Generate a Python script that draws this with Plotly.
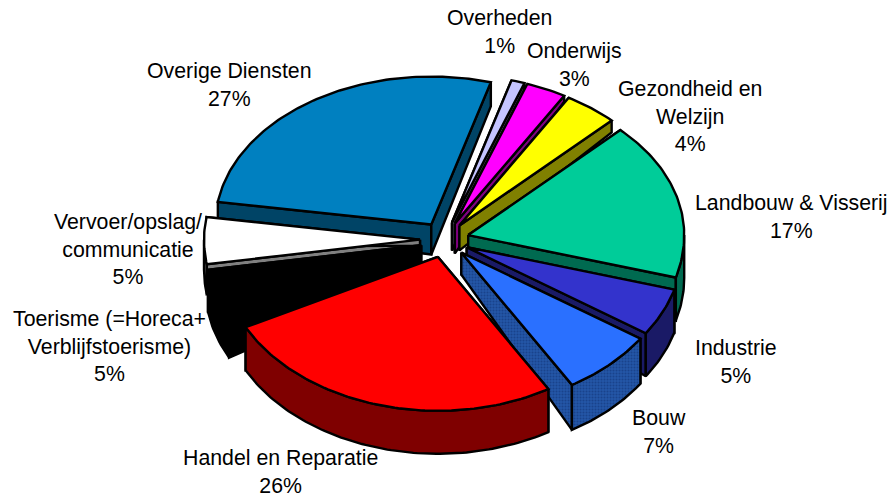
import math
import plotly.graph_objects as go

# Data, in drawing order (clockwise from the top)
categories = ["Overheden", "Onderwijs", "Gezondheid en<br>Welzijn", "Landbouw &amp; Visserij",
              "Industrie", "Bouw", "Handel en Reparatie",
              "Toerisme (=Horeca+<br>Verblijfstoerisme)",
              "Vervoer/opslag/<br>communicatie", "Overige Diensten"]
values = [1, 3, 4, 17, 5, 7, 26, 5, 5, 27]
top_colors = ["#C4C4FF", "#FF00FF", "#FFFF00", "#00CC99", "#3333CC",
              "#2A70FF", "#FF0000", "#000000", "#FFFFFF", "#0080C0"]
side_colors = ["#62627F", "#800080", "#808000", "#006A50", "#1A1A66",
               "#2456A8", "#7F0000", "#000000", "#808080", "#004466"]

# Layout of the drawing
CX, CY = 444.5, 239.6
EX_X, EX_Y = 24.5, 17.9
RX, RY_BACK, RY_FRONT = 216, 148, 154
ROT = 16.0
APEX_DEPTH = [28, 30, 25, 25, 22, 22, 30, 30, 6, 30]
RIM_DEPTH = [10, 6, 12, 43, 43, 45, 43, 42, 30, 24]
LABEL_POS = [(499, 32), (574, 65), (690, 116.5), (791, 217), (736, 362),
             (659, 432), (280, 472), (109, 346.5), (128, 249.5), (229, 84.5)]

fig = go.Figure()


def poly(pts, fill, pattern=None):
    xs = [p[0] for p in pts] + [pts[0][0]]
    ys = [p[1] for p in pts] + [pts[0][1]]
    kw = {}
    if pattern:
        kw["fillpattern"] = pattern
    fig.add_trace(go.Scatter(x=xs, y=ys, mode="lines", fill="toself", fillcolor=fill,
                             line=dict(color="#000000", width=2.4, shape="linear"),
                             hoverinfo="skip", showlegend=False, **kw))


total = sum(values)
spans = []
a = ROT
for v in values:
    b = a + 360.0 * v / total
    spans.append((a, b))
    a = b


def rim(ax, ay, t):
    r = math.radians(t)
    c = math.cos(r)
    return (ax + RX * math.sin(r), ay - (RY_BACK if c > 0 else RY_FRONT) * c)


order = sorted(range(len(values)),
               key=lambda i: -math.cos(math.radians((spans[i][0] + spans[i][1]) / 2)))

for i in order:
    s, e = spans[i]
    mid = math.radians((s + e) / 2)
    ax = CX + EX_X * math.sin(mid)
    ay = CY - EX_Y * math.cos(mid)
    n = max(int(e - s), 2)
    arc = [rim(ax, ay, s + (e - s) * k / n) for k in range(n + 1)]
    ad, rd = APEX_DEPTH[i], RIM_DEPTH[i]
    pattern = None
    if categories[i] == "Bouw":
        pattern = dict(shape=".", bgcolor="#2456A8", fgcolor="#0E3070", size=3, solidity=0.4)
    # radial walls
    for pt in (arc[0], arc[-1]):
        poly([(ax, ay), pt, (pt[0], pt[1] + rd), (ax, ay + ad)], side_colors[i], pattern)
    # outer wall, only on the front half
    f0, f1 = max(s, 90), min(e, 270)
    if f1 > f0:
        m = max(int(f1 - f0), 2)
        front = [rim(ax, ay, f0 + (f1 - f0) * k / m) for k in range(m + 1)]
        poly(front + [(p[0], p[1] + rd) for p in reversed(front)], side_colors[i], pattern)
    # top
    poly([(ax, ay)] + arc, top_colors[i])

for name, v, (lx, ly) in zip(categories, values, LABEL_POS):
    fig.add_annotation(x=lx, y=ly, text=f"{name}<br>{v}%", showarrow=False,
                       xanchor="center", yanchor="middle", align="center",
                       font=dict(family="Liberation Sans, Arial, sans-serif", size=21.3, color="#000000"))

fig.update_layout(width=892, height=500, autosize=False,
                  margin=dict(l=0, r=0, t=0, b=0),
                  paper_bgcolor="#FFFFFF", plot_bgcolor="#FFFFFF", showlegend=False,
                  xaxis=dict(range=[0, 892], visible=False, fixedrange=True),
                  yaxis=dict(range=[500, 0], visible=False, fixedrange=True))
fig.write_html("out.html", config={"displayModeBar": False},
               post_script="document.body.style.margin='0';document.documentElement.style.overflow='hidden';")
